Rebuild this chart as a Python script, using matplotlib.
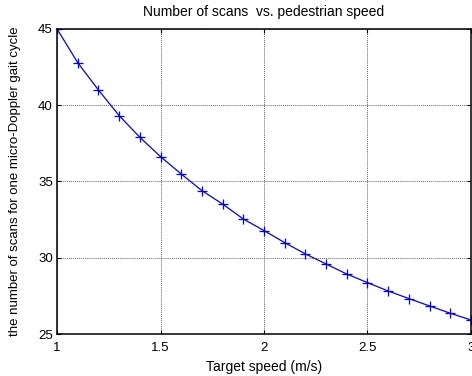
import numpy as np
import matplotlib.pyplot as plt

plt.rcParams['font.family'] = ['Liberation Sans', 'DejaVu Sans']

# target speed (m/s) and number of scans
speed = [1.0, 1.1, 1.2, 1.3, 1.4, 1.5, 1.6, 1.7, 1.8, 1.9, 2.0,
         2.1, 2.2, 2.3, 2.4, 2.5, 2.6, 2.7, 2.8, 2.9, 3.0]
scans = [45.0, 42.79, 41.0, 39.32, 37.9, 36.63, 35.49, 34.4, 33.52, 32.54, 31.78,
         30.99, 30.25, 29.59, 28.93, 28.37, 27.82, 27.32, 26.84, 26.36, 25.92]

xticks = [1, 1.5, 2, 2.5, 3]
xticklabels = ['1', '1.5', '2', '2.5', '3']
yticks = [25, 30, 35, 40, 45]

fig = plt.figure(figsize=(4.72, 3.76), dpi=100)
ax = fig.add_axes([0.1208, 0.1117, 0.877, 0.8113])

ax.plot(speed, scans, '-', color='blue', linewidth=0.9)
ax.plot(speed, scans, '+', color='blue', markersize=7, markeredgewidth=0.9)

ax.set_xlim(1, 3)
ax.set_ylim(25, 45)
ax.set_xticks(xticks)
ax.set_xticklabels(xticklabels)
ax.set_yticks(yticks)
ax.grid(True, color='0.4', linestyle=(0, (1, 1)), linewidth=0.7)
ax.tick_params(direction='in', length=3, labelsize=9.5, top=True, right=True,
               width=0.8)
ax.tick_params(axis='x', pad=6)
ax.tick_params(axis='y', pad=3)
for s in ax.spines.values():
    s.set_linewidth(1.1)

ax.set_title('Number of scans  vs. pedestrian speed', fontsize=10, pad=9)
ax.set_xlabel('Target speed (m/s)', fontsize=10, labelpad=4)
ax.set_ylabel('the number of scans for one micro-Doppler gait cycle', fontsize=9.5,
              labelpad=12)

fig.savefig('out.png', dpi=100)
